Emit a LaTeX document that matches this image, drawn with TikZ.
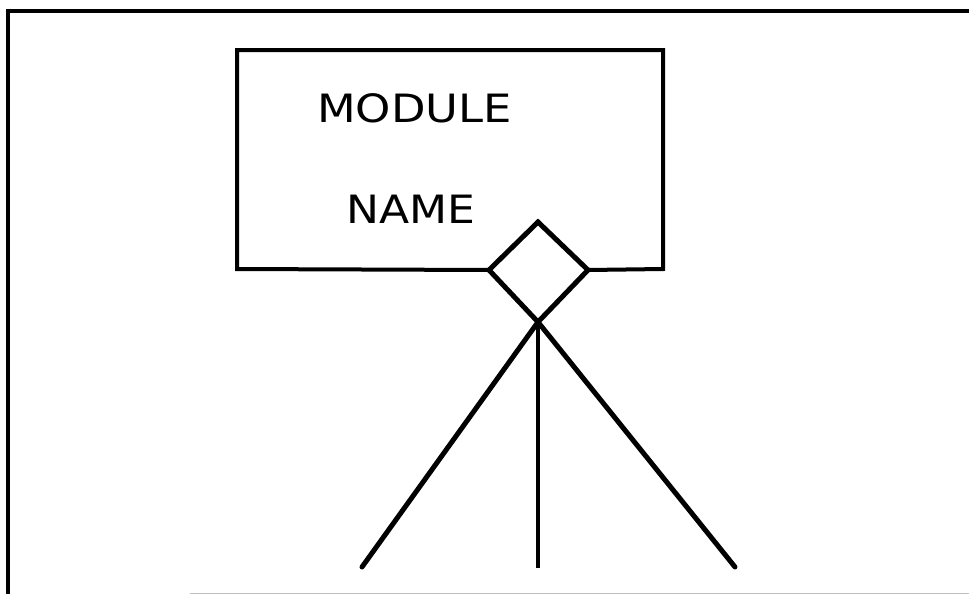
\documentclass[tikz,border=0pt]{standalone}
\usepackage{fontspec}
\usepackage{graphicx}
\setmainfont{DejaVu Sans}
\begin{document}
\begin{tikzpicture}[x=1pt,y=-1pt,
  frame/.style={line width=3.5pt,black},
  boxline/.style={line width=4pt,black},
  lbl/.style={inner sep=0pt,anchor=base west,font=\fontsize{39}{39}\selectfont},
  leg/.style={line width=5pt,line cap=round},
  midleg/.style={line width=3.5pt}]
\useasboundingbox (0,0) rectangle (969,595);
% outer frame
\draw[frame] (8,594) -- (8,11) -- (969,11);
\draw[line width=1pt,black!25] (190,593) -- (969,593);
% module box
\coordinate (bl) at (237,269);
\coordinate (br) at (663,269);
\coordinate (dl) at (489,270);
\coordinate (dr) at (588,270);
\coordinate (dt) at (538,222);
\coordinate (db) at (538,322);
\draw[boxline,line join=miter] (dl) -- (bl) -- (237,50) -- (663,50) -- (br) -- (dr);
\node[lbl] (t1) at (317,122) {\scalebox{1.15}[1]{MODULE}};
\node[lbl] (t2) at (346,223) {\scalebox{1.13}[1]{NAME}};
% diamond
\draw[line width=5pt,line join=miter] (dt) -- (dr) -- (db) -- (dl) -- cycle;
% legs
\coordinate (e1) at (362,567);
\coordinate (e2) at (538,568);
\coordinate (e3) at (735,567);
\draw[leg] (db) -- (e1);
\draw[leg] (db) -- (e3);
\draw[midleg] (db) -- (e2);
\end{tikzpicture}
\end{document}
